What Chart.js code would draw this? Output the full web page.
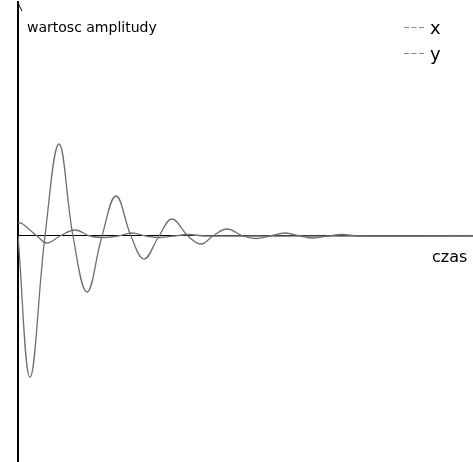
<!DOCTYPE html>
<html>
<head>
<meta charset="utf-8">
<script src="https://cdn.jsdelivr.net/npm/chart.js@4/dist/chart.umd.min.js"></script>
<style>
  html, body { margin: 0; padding: 0; background: #fff; }
  #c { display: block; }
</style>
</head>
<body>
<canvas id="c" width="473" height="462"></canvas>
<script>
// ---- data ----
const seriesNames = ["x", "y"];
const axisTitleY = "wartosc amplitudy";
const axisTitleX = "czas";

// series "x": large damped oscillation (extrema and zero crossings)
const timeX = [0, 12, 27, 41, 55, 69, 84, 98, 113, 126, 141, 154, 170, 183, 195, 209, 225, 238, 252, 267, 282, 295, 310, 324, 340, 455];
const valuesX = [0, -141, 0, 92, 0, -56, 0, 40, 0, -23, 0, 17, 0, -8, 0, 7, 0, -2.5, 0, 3, 0, -2, 0, 1.5, 0, 0];

// series "y": small damped oscillation
const timeY = [0, 4, 19, 29, 42, 57, 72, 85, 100, 114, 128, 142, 156, 170, 187, 455];
const valuesY = [13, 12.5, 0, -7, 0, 6, 0, -1.5, 0, 3, 0, -1.5, 0, 1.5, 0, 0];

const timeMin = 0, timeMax = 455;
const ampMin = -226, ampMax = 234;

const toPoints = (ts, vs) => ts.map((t, i) => ({ x: t, y: vs[i] }));

const overlay = {
  id: 'overlay',
  afterDraw(chart) {
    const ctx = chart.ctx;
    const ca = chart.chartArea;
    ctx.save();
    // arrow tip of the value axis
    ctx.strokeStyle = '#000';
    ctx.lineWidth = 1;
    ctx.beginPath();
    ctx.moveTo(ca.left, ca.top + 1);
    ctx.lineTo(ca.left + 4, ca.top + 9);
    ctx.stroke();
    // axis titles
    ctx.fillStyle = '#000';
    ctx.textBaseline = 'alphabetic';
    ctx.textAlign = 'left';
    ctx.font = '14px "DejaVu Sans"';
    ctx.fillText(axisTitleY, ca.left + 9, 32);
    ctx.font = '16px "DejaVu Sans"';
    const zeroY = chart.scales.y.getPixelForValue(0);
    ctx.fillText(axisTitleX, 432, zeroY + 26);
    // legend
    chart.data.datasets.forEach((ds, i) => {
      const yy = 27.5 + i * 26;
      ctx.strokeStyle = '#8a8a8a';
      ctx.lineWidth = 1;
      ctx.setLineDash([5, 2.5]);
      ctx.beginPath();
      ctx.moveTo(404, yy);
      ctx.lineTo(426, yy);
      ctx.stroke();
      ctx.setLineDash([]);
      ctx.fillStyle = '#000';
      ctx.font = '18px "DejaVu Sans"';
      ctx.fillText(ds.label, 430, yy + 6);
    });
    ctx.restore();
  }
};

new Chart(document.getElementById('c'), {
  type: 'line',
  data: {
    datasets: [
      { label: seriesNames[0], data: toPoints(timeX, valuesX), borderColor: '#707070', borderWidth: 1.3, pointRadius: 0, tension: 0.4, fill: false },
      { label: seriesNames[1], data: toPoints(timeY, valuesY), borderColor: '#707070', borderWidth: 1.3, pointRadius: 0, tension: 0.4, fill: false }
    ]
  },
  options: {
    responsive: false,
    animation: false,
    devicePixelRatio: 1,
    layout: { padding: { left: 18, top: 2, right: 0, bottom: 0 } },
    plugins: { legend: { display: false }, tooltip: { enabled: false } },
    scales: {
      x: {
        type: 'linear',
        min: timeMin, max: timeMax,
        position: { y: 0 },
        grid: { display: false, drawTicks: false },
        ticks: { display: false },
        border: { display: true, color: '#000', width: 1 }
      },
      y: {
        type: 'linear',
        min: ampMin, max: ampMax,
        position: 'left',
        grid: { display: false, drawTicks: false },
        ticks: { display: false },
        border: { display: true, color: '#000', width: 2 }
      }
    }
  },
  plugins: [overlay]
});
</script>
</body>
</html>
